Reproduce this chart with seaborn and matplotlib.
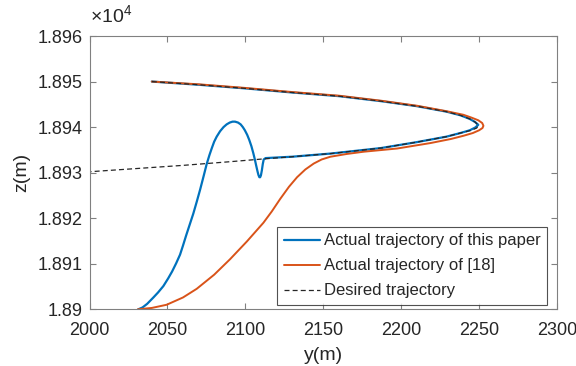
import matplotlib
matplotlib.use("Agg")
import matplotlib.pyplot as plt
from matplotlib.ticker import FuncFormatter, MultipleLocator
import seaborn as sns
import pandas as pd

# Desired trajectory (y, z)
des_y = [2040, 2070, 2100, 2130, 2160, 2187, 2210, 2229, 2238, 2244, 2247.5, 2249.5,
         2248.5, 2245, 2238, 2229, 2210, 2187, 2155, 2130, 2111, 2090, 2060, 2030, 2000]
des_z = [18950.0, 18949.3, 18948.5, 18947.6, 18946.8, 18945.7, 18944.6, 18943.4, 18942.6, 18941.8, 18941.1, 18940.4,
         18939.8, 18939.3, 18938.7, 18937.9, 18936.7, 18935.4, 18934.2, 18933.5, 18933.0, 18932.4, 18931.6, 18930.9, 18930.2]

# Actual trajectory of this paper
blue_y = [2031.3, 2034, 2037, 2041, 2044, 2047.4, 2050.5, 2053, 2055.6, 2058.1, 2060, 2062, 2064.3, 2066.6, 2068.8,
          2071, 2073.2, 2075.2, 2077, 2078.5, 2080, 2081.6, 2083.8, 2086, 2088, 2090, 2091.8, 2093.4, 2095.3,
          2097, 2098.4, 2099.7, 2101.2, 2102.5, 2103.9, 2105.1, 2106.1, 2107, 2107.8, 2108.4, 2109.0, 2109.5,
          2110.0, 2110.6, 2111.2, 2111.8, 2113,
          2130, 2155, 2187, 2210, 2229, 2238, 2244, 2247.5, 2249.5, 2247.5, 2244, 2238, 2229, 2210, 2187, 2160,
          2130, 2100, 2070, 2040]
blue_z = [18900.0, 18900.4, 18901.2, 18902.6, 18903.7, 18905.1, 18906.8, 18908.3, 18910.1, 18912.0, 18914.0, 18916.2, 18918.6, 18921.0, 18923.6,
          18926.3, 18929.2, 18931.9, 18933.9, 18935.4, 18936.8, 18937.9, 18939.1, 18940.0, 18940.6, 18941.0, 18941.2, 18941.2, 18941.0,
          18940.6, 18940.0, 18939.3, 18938.3, 18937.2, 18935.8, 18934.3, 18932.9, 18931.5, 18930.3, 18929.5, 18929.0, 18929.0,
          18929.4, 18930.5, 18931.9, 18932.9, 18933.2,
          18933.5, 18934.2, 18935.4, 18936.7, 18937.9, 18938.7, 18939.3, 18939.9, 18940.5, 18941.1, 18941.8, 18942.6, 18943.4, 18944.6, 18945.7, 18946.8,
          18947.6, 18948.5, 18949.3, 18950.0]

# Actual trajectory of [18]
org_y = [2031, 2040, 2049.5, 2060, 2068.8, 2080, 2090.2, 2101, 2111.6, 2117, 2122.3, 2128, 2133.2, 2138.5,
         2143.9, 2149, 2154.6, 2165, 2176, 2197.4, 2218.8, 2232, 2240, 2246, 2250, 2252.2, 2252.8, 2252, 2249.5, 2245, 2240, 2229,
         2210, 2187, 2160, 2130, 2100, 2070, 2040]
org_z = [18900.0, 18900.3, 18901.0, 18902.6, 18904.5, 18907.6, 18911.0, 18914.9, 18919.0, 18921.5, 18924.2, 18926.9, 18929.0, 18930.7,
         18932.0, 18932.9, 18933.5, 18934.1, 18934.6, 18935.3, 18936.5, 18937.4, 18938.1, 18938.7, 18939.3, 18939.8, 18940.3, 18940.9, 18941.5, 18942.1, 18942.7, 18943.5,
         18944.7, 18945.8, 18946.9, 18947.7, 18948.6, 18949.4, 18950.0]

labels = ["Actual trajectory of this paper", "Actual trajectory of [18]", "Desired trajectory"]
x_ticks = [2000, 2050, 2100, 2150, 2200, 2250, 2300]

sns.set_theme(style="white")
plt.rcParams['font.family'] = ['Liberation Sans', 'DejaVu Sans']
plt.rcParams['mathtext.fontset'] = 'custom'
plt.rcParams['mathtext.rm'] = 'Liberation Sans'

fig = plt.figure(figsize=(5.76, 3.66), dpi=100)
ax = fig.add_axes([0.1554, 0.1549, 0.8116, 0.7467])

dfb = pd.DataFrame({"y": blue_y, "z": blue_z})
dfo = pd.DataFrame({"y": org_y, "z": org_z})
dfd = pd.DataFrame({"y": des_y, "z": des_z})

sns.lineplot(data=dfb, x="y", y="z", sort=False, estimator=None, ax=ax,
             color="#0072BD", lw=1.6, label=labels[0])
sns.lineplot(data=dfo, x="y", y="z", sort=False, estimator=None, ax=ax,
             color="#D95319", lw=1.4, label=labels[1])
sns.lineplot(data=dfd, x="y", y="z", sort=False, estimator=None, ax=ax,
             color="#262626", lw=0.9, label=labels[2])
ax.lines[2].set_linestyle((0, (4, 2.5)))

ax.set_xlim(2000, 2300)
ax.set_ylim(18900, 18960)
ax.set_xticks(x_ticks)
ax.yaxis.set_major_locator(MultipleLocator(10))
ax.yaxis.set_major_formatter(FuncFormatter(lambda v, p: f"{v/1e4:g}"))

ax.tick_params(direction="in", length=4, width=0.8, colors="#808080",
               labelsize=13, top=True, right=True, bottom=True, left=True,
               labelcolor="#262626")
ax.tick_params(axis="x", pad=9)
ax.tick_params(axis="y", pad=5)
for s in ax.spines.values():
    s.set_color("#808080")
    s.set_linewidth(0.8)

ax.set_xlabel("y(m)", fontsize=14, color="#262626", labelpad=6)
ax.set_ylabel("z(m)", fontsize=14, color="#262626", labelpad=5)

fig.text(0.157, 0.925, r"$\times10^{4}$", fontsize=14, color="#262626", ha="left", va="bottom")

leg = ax.legend(loc="lower right", bbox_to_anchor=(0.9786, 0.0157), fontsize=12,
                frameon=True, fancybox=False, shadow=False, handlelength=2.2,
                handletextpad=0.2, labelspacing=0.6, borderpad=0.4, borderaxespad=0)
leg.get_frame().set_edgecolor("#262626")
leg.get_frame().set_linewidth(0.8)
leg.get_lines()[2].set_linestyle((0, (4, 2.5)))

fig.savefig("out.png", dpi=100)
